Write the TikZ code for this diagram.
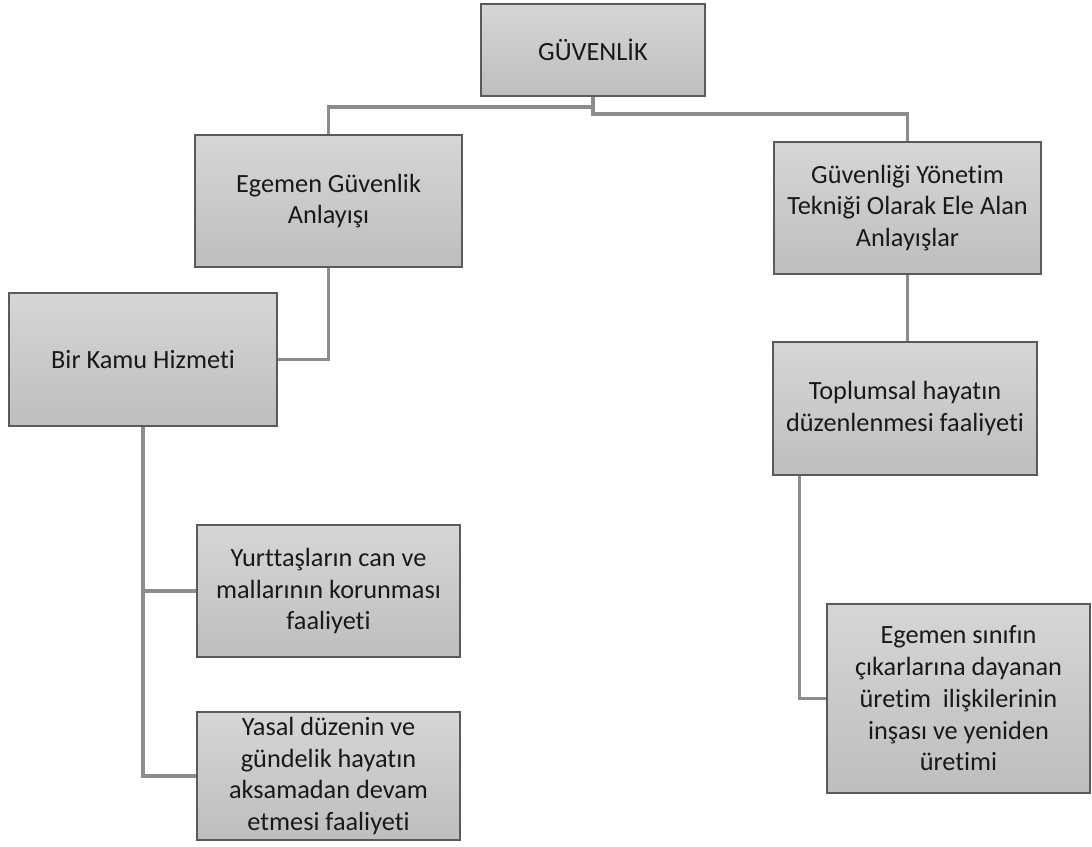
\documentclass[tikz,border=0pt]{standalone}
\usepackage{fontspec}
\setmainfont[Ligatures=NoCommon]{Carlito}
\usetikzlibrary{calc,shadows}

\definecolor{boxtop}{RGB}{214,214,214}
\definecolor{boxbot}{RGB}{190,190,190}
\definecolor{boxline}{RGB}{90,90,90}
\definecolor{linkgray}{RGB}{140,140,140}
\definecolor{yazi}{RGB}{25,25,25}

\tikzset{
  kutu/.style={draw=boxline, line width=0.8pt, top color=boxtop, bottom color=boxbot,
    align=center, inner sep=0pt, text=yazi, font=\fontsize{18.7}{22.6}\selectfont,
    drop shadow={shadow xshift=0pt, shadow yshift=-1pt, opacity=0.3}},
  baglanti/.style={draw=linkgray, line width=2.2pt}
}

\begin{document}
\begin{tikzpicture}[x=0.025cm,y=-0.025cm]
      \useasboundingbox (0,0) rectangle (1092,847);
      % Top level.
      \node[kutu, minimum width=224*0.025cm, minimum height=92*0.025cm] (guvenlik) at (593,50) {GÜVENLİK};
      \node[kutu, minimum width=267*0.025cm, minimum height=132*0.025cm] (egemen) at (328.5,201) {Egemen Güvenlik\\Anlayışı};
      \node[kutu, minimum width=267*0.025cm, minimum height=132*0.025cm] (yonetim) at (907.5,208) {Güvenliği Yönetim\\Tekniği Olarak Ele Alan\\Anlayışlar};
      % Left branch.
      \node[kutu, minimum width=268*0.025cm, minimum height=133*0.025cm] (kamu) at (143,359.5) {Bir Kamu Hizmeti};
      \node[kutu, minimum width=263*0.025cm, minimum height=132*0.025cm] (yurttas) at (328.5,591) {Yurttaşların can ve\\mallarının korunması\\faaliyeti};
      \node[kutu, minimum width=263*0.025cm, minimum height=128*0.025cm] (yasal) at (328.5,776) {Yasal düzenin ve\\gündelik hayatın\\aksamadan devam\\etmesi faaliyeti};
      % Right branch.
      \node[kutu, minimum width=264*0.025cm, minimum height=133*0.025cm] (toplumsal) at (905,408.5) {Toplumsal hayatın\\düzenlenmesi faaliyeti};
      \node[kutu, minimum width=263*0.025cm, minimum height=189*0.025cm] (sinif) at (958.5,698.5) {Egemen sınıfın\\çıkarlarına dayanan\\üretim\ \ ilişkilerinin\\inşası ve yeniden\\üretimi};
      % Connectors.
      \coordinate (solk) at (593,107);
      \coordinate (sagk) at (593,114);
      \draw[baglanti] (guvenlik.south) -- (sagk) -| (yonetim.north);
      \draw[baglanti] (solk) -| (egemen.north);
      \draw[baglanti] (egemen.south) |- (kamu.east);
      \draw[baglanti] (kamu.south) |- (yurttas.west);
      \draw[baglanti] (kamu.south) |- (yasal.west);
      \draw[baglanti] (yonetim.south) -- (yonetim.south |- toplumsal.north);
      \draw[baglanti] ($(toplumsal.south west)+(27,0)$) |- (sinif.west);
    \end{tikzpicture}
\end{document}
